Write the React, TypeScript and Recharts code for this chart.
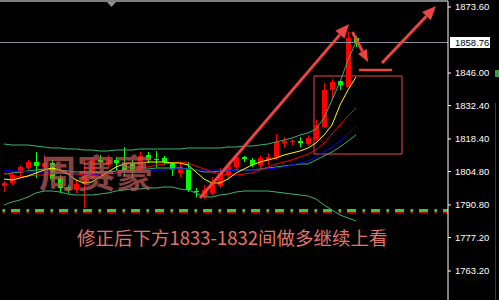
import React from 'react';
import { ComposedChart, Bar, Line, XAxis, YAxis, ReferenceLine, ReferenceArea } from 'recharts';

// ---- price data (one entry per bar) ----
const opens = [
  1798.74, 1800.0, 1804.18, 1806.27, 1808.78, 1806.69, 1808.36, 1802.09, 1798.33, 1797.07,
  1799.58, 1802.09, 1809.62, 1807.53, 1809.62, 1808.36, 1808.36, 1805.44, 1811.71, 1810.04,
  1810.45, 1808.36, 1804.18, 1806.27, 1796.65, 1794.14, 1795.82, 1798.74, 1803.34, 1806.69,
  1810.87, 1809.62, 1807.53, 1809.62, 1810.45, 1816.73, 1817.15, 1817.56, 1816.31, 1818.4,
  1823.42, 1838.89, 1842.66, 1840.15, 1860.64,
];
const highs = [
  1800.84, 1804.6, 1807.53, 1809.62, 1812.96, 1811.71, 1809.62, 1803.34, 1799.16, 1801.25,
  1809.62, 1810.87, 1811.71, 1811.71, 1810.87, 1815.05, 1809.62, 1812.96, 1812.96, 1813.38,
  1811.29, 1808.78, 1808.36, 1808.78, 1797.91, 1799.16, 1802.51, 1806.27, 1808.78, 1811.71,
  1811.29, 1810.45, 1811.29, 1812.55, 1820.49, 1819.24, 1818.4, 1819.24, 1820.07, 1826.35,
  1841.82, 1843.49, 1843.07, 1863.15, 1861.47,
];
const lows = [
  1796.24, 1799.16, 1802.51, 1805.44, 1802.09, 1804.6, 1800.42, 1795.82, 1795.82, 1795.82,
  1789.54, 1801.25, 1806.27, 1806.27, 1805.44, 1802.93, 1802.09, 1804.6, 1808.36, 1806.69,
  1807.53, 1802.93, 1802.51, 1796.24, 1794.14, 1793.31, 1794.98, 1797.91, 1802.09, 1805.44,
  1808.78, 1806.69, 1806.27, 1807.53, 1809.62, 1814.64, 1815.89, 1815.05, 1815.47, 1817.56,
  1823.0, 1834.71, 1838.89, 1840.15, 1856.87,
];
const closes = [
  1800.0, 1803.34, 1806.69, 1808.78, 1807.11, 1808.36, 1801.67, 1797.91, 1797.07, 1799.58,
  1802.93, 1809.62, 1808.78, 1809.62, 1808.36, 1805.44, 1804.6, 1811.29, 1809.62, 1809.62,
  1808.78, 1805.44, 1806.69, 1797.07, 1796.24, 1797.07, 1800.42, 1804.18, 1807.11, 1810.87,
  1810.04, 1807.53, 1810.45, 1810.87, 1817.15, 1817.56, 1817.56, 1816.73, 1818.82, 1824.25,
  1838.89, 1842.24, 1840.98, 1860.64, 1858.76,
];

// ---- indicator lines ----
const upperBand = [
  1816.31, 1815.89, 1815.89, 1815.89, 1815.47, 1815.05, 1814.64, 1814.64, 1814.22, 1814.22,
  1813.8, 1813.8, 1813.38, 1813.38, 1813.8, 1813.8, 1813.8, 1814.22, 1814.22, 1814.22,
  1814.22, 1814.22, 1814.22, 1814.64, 1814.64, 1814.64, 1814.64, 1814.64, 1815.05, 1815.05,
  1815.47, 1815.47, 1815.89, 1816.31, 1817.15, 1817.98, 1818.82, 1820.07, 1820.91, 1822.58,
  1827.18, 1834.71, 1842.24, 1851.44, 1858.97,
];
const midBand = [
  1803.76, 1804.18, 1804.6, 1805.02, 1805.44, 1805.85, 1805.85, 1805.44, 1805.02, 1804.6,
  1804.6, 1804.6, 1804.6, 1804.6, 1805.02, 1805.44, 1805.44, 1805.85, 1805.85, 1806.27,
  1806.27, 1806.27, 1806.27, 1805.85, 1805.44, 1804.6, 1804.6, 1805.02, 1805.02, 1805.44,
  1805.44, 1805.44, 1805.85, 1806.27, 1806.69, 1807.11, 1807.53, 1807.95, 1807.95, 1809.62,
  1811.29, 1812.96, 1815.05, 1817.56, 1820.07,
];
const lowerBand = [
  1790.8, 1792.05, 1792.89, 1794.14, 1795.82, 1796.65, 1796.65, 1796.24, 1795.4, 1794.98,
  1794.98, 1794.98, 1795.4, 1795.82, 1796.65, 1797.07, 1797.49, 1797.49, 1797.91, 1797.91,
  1798.33, 1798.33, 1797.49, 1797.07, 1795.82, 1794.14, 1794.14, 1794.98, 1795.4, 1796.24,
  1796.65, 1796.65, 1796.65, 1796.65, 1796.24, 1795.82, 1795.4, 1794.98, 1794.56, 1793.31,
  1790.8, 1788.71, 1786.62, 1785.36, 1784.11,
];
const maYellow = [
  1801.67, 1801.25, 1802.09, 1802.93, 1804.18, 1805.44, 1806.27, 1805.44, 1803.76, 1801.25,
  1800.0, 1800.42, 1802.51, 1804.6, 1806.69, 1807.95, 1808.36, 1808.36, 1808.78, 1808.78,
  1808.78, 1808.36, 1808.36, 1807.53, 1804.6, 1801.67, 1800.0, 1800.0, 1801.67, 1804.18,
  1805.85, 1807.53, 1808.78, 1809.62, 1810.45, 1811.71, 1812.55, 1813.38, 1814.64, 1816.73,
  1820.07, 1824.25, 1832.62, 1838.89, 1844.33,
];
const maRed = [
  1804.18, 1803.34, 1802.51, 1802.93, 1803.34, 1803.34, 1803.76, 1804.18, 1804.18, 1803.76,
  1803.34, 1802.93, 1803.34, 1803.76, 1804.18, 1805.02, 1805.44, 1806.27, 1806.69, 1807.53,
  1807.95, 1808.36, 1808.78, 1808.36, 1807.11, 1805.85, 1804.6, 1803.76, 1803.34, 1803.34,
  1803.76, 1804.18, 1805.44, 1806.69, 1807.95, 1808.78, 1809.62, 1810.87, 1812.13, 1813.8,
  1816.73, 1820.49, 1824.25, 1828.02, 1831.36,
];
const maBlue = [
  1805.44, 1805.02, 1805.02, 1804.6, 1804.6, 1804.6, 1804.18, 1804.18, 1803.76, 1803.76,
  1803.76, 1803.76, 1803.76, 1804.18, 1804.18, 1804.18, 1804.6, 1804.6, 1805.02, 1805.44,
  1805.44, 1805.85, 1805.85, 1805.85, 1805.44, 1805.44, 1805.44, 1805.44, 1805.02, 1805.44,
  1805.44, 1805.44, 1805.44, 1805.85, 1806.27, 1806.69, 1807.53, 1808.36, 1809.2, 1810.87,
  1812.96, 1815.05, 1817.56, 1820.49, 1823.84,
];

// ---- axis settings ----
const priceTicks = [1873.6, 1846.0, 1832.4, 1818.4, 1804.8, 1790.8, 1777.2, 1763.2];
const priceDomain: [number, number] = [1751.07, 1876.11];
const lastPrice = 1858.76;
const slotCount = 56;

// support levels (dash-dot)
const supportGreen = 1788.5;
const supportRed = 1787.54;

// hand-drawn annotations in (slot, price) coordinates
const trendArrows = [
  { from: { x: 25.0, y: 1793.73 }, to: { x: 43.625, y: 1866.49 }, len: 14, half: 6 },
  { from: { x: 44.06, y: 1863.15 }, to: { x: 46.0, y: 1850.6 }, len: 12, half: 5 },
  { from: { x: 47.75, y: 1850.18 }, to: { x: 54.5, y: 1874.02 }, len: 14, half: 6 },
];
const targetMark = { from: { x: 44.875, y: 1847.26 }, to: { x: 49.0, y: 1847.26 } };
const zoneBox = { x1: 39.25, x2: 50.25, y1: 1812.13, y2: 1844.75 };

const watermark = '周赛豪';
const caption = '修正后下方1833-1832间做多继续上看';

const rows = Array.from({ length: slotCount }, (_, i) =>
  i < opens.length
    ? {
        t: String(i),
        slot: i + 0.5,
        open: opens[i],
        high: highs[i],
        low: lows[i],
        close: closes[i],
        upper: upperBand[i],
        mid: midBand[i],
        lower: lowerBand[i],
        yellow: maYellow[i],
        red: maRed[i],
        blue: maBlue[i],
      }
    : { t: String(i), slot: i + 0.5 }
);

const ARROW_RED = '#ec4343';

const Candle = (props: any) => {
  const { x, y, width, height, payload } = props;
  if (!payload || payload.high === undefined || y == null || height == null) return null;
  const top = Math.min(y, y + height);
  const h = Math.abs(height);
  const span = payload.high - payload.low || 1;
  const toY = (v: number) => top + ((payload.high - v) / span) * h;
  const up = payload.close > payload.open;
  const color = up ? '#ff0000' : '#00ff00';
  const cx = Math.round(x + width / 2);
  const bTop = Math.round(toY(Math.max(payload.open, payload.close)));
  const bBot = Math.round(toY(Math.min(payload.open, payload.close)));
  return (
    <g>
      <line x1={cx + 0.5} x2={cx + 0.5} y1={Math.round(top)} y2={Math.round(top + h)} stroke={color} strokeWidth={1} />
      <rect x={cx - 2} y={bTop} width={5} height={Math.max(1, bBot - bTop)} fill={color} />
    </g>
  );
};

const makeArrow = (len: number, half: number) => (p: any) => {
  const { x1, y1, x2, y2 } = p;
  const ang = Math.atan2(y2 - y1, x2 - x1);
  const bx = x2 - len * Math.cos(ang);
  const by = y2 - len * Math.sin(ang);
  const nx = -Math.sin(ang);
  const ny = Math.cos(ang);
  return (
    <g>
      <line x1={x1} y1={y1} x2={bx} y2={by} stroke={ARROW_RED} strokeWidth={3} />
      <polygon
        points={`${x2},${y2} ${bx + nx * half},${by + ny * half} ${bx - nx * half},${by - ny * half}`}
        fill={ARROW_RED}
      />
    </g>
  );
};

const PriceTag = (props: any) => {
  const vb = props.viewBox || {};
  const right = (vb.x || 0) + (vb.width || 0);
  const cy = vb.y || 0;
  return (
    <g>
      <rect x={right + 2} y={cy - 5.5} width={40} height={11} fill="#ffffff" />
      <text x={right + 7} y={cy} dy="0.355em" fontSize={9.5} fontFamily="Liberation Sans" fill="#000000">
        {lastPrice.toFixed(2)}
      </text>
    </g>
  );
};

export default function App() {
  return (
    <div style={{ position: 'relative', width: 499, height: 300, background: '#000', overflow: 'hidden' }}>
      <style>{'body{margin:0;background:#000;}'}</style>
      <ComposedChart
        width={499}
        height={300}
        data={rows}
        margin={{ top: 1, right: 0, bottom: 0, left: 0 }}
        barCategoryGap={0}
        barGap={0}
      >
        <XAxis xAxisId="c" dataKey="t" type="category" hide />
        <XAxis xAxisId="n" dataKey="slot" type="number" domain={[0, slotCount]} allowDataOverflow hide />
        <YAxis
          orientation="right"
          width={51}
          domain={priceDomain}
          allowDataOverflow
          ticks={priceTicks}
          interval={0}
          tickFormatter={(v: number) => v.toFixed(2)}
          axisLine={{ stroke: '#ffffff' }}
          tickLine={{ stroke: '#ffffff' }}
          tickSize={3}
          tickMargin={4}
          tick={{ fill: '#ffffff', fontSize: 9.5, fontFamily: 'Liberation Sans' }}
        />

        {/* frame and last price */}
        <ReferenceLine xAxisId="c" y={priceDomain[1]} stroke="#ffffff" strokeWidth={1} />
        <ReferenceLine xAxisId="c" y={lastPrice} stroke="#8c919b" strokeWidth={1} label={PriceTag} />

        {/* support levels */}
        <ReferenceLine
          xAxisId="c"
          y={supportGreen}
          stroke="#32cd32"
          strokeWidth={3}
          strokeDasharray="9 6 2.5 6.5"
          strokeDashoffset={4}
        />
        <ReferenceLine
          xAxisId="c"
          y={supportRed}
          stroke="#ff0000"
          strokeWidth={1.3}
          strokeDasharray="9 6 2.5 6.5"
          strokeDashoffset={4}
        />

        <Bar xAxisId="c" dataKey={(d: any) => (d.high === undefined ? undefined : [d.low, d.high])} shape={Candle} isAnimationActive={false} />

        <Line xAxisId="c" dataKey="upper" stroke="#3cb371" strokeWidth={1} dot={false} activeDot={false} isAnimationActive={false} />
        <Line xAxisId="c" dataKey="lower" stroke="#3cb371" strokeWidth={1} dot={false} activeDot={false} isAnimationActive={false} />
        <Line xAxisId="c" dataKey="mid" stroke="#3cb371" strokeWidth={1} dot={false} activeDot={false} isAnimationActive={false} />
        <Line xAxisId="c" dataKey="blue" stroke="#0000ff" strokeWidth={1} dot={false} activeDot={false} isAnimationActive={false} />
        <Line xAxisId="c" dataKey="red" stroke="#ff0000" strokeWidth={1} dot={false} activeDot={false} isAnimationActive={false} />
        <Line xAxisId="c" dataKey="yellow" stroke="#ffff00" strokeWidth={1} dot={false} activeDot={false} isAnimationActive={false} />

        {/* annotations */}
        <ReferenceArea
          xAxisId="n"
          x1={zoneBox.x1}
          x2={zoneBox.x2}
          y1={zoneBox.y1}
          y2={zoneBox.y2}
          fill="none"
          fillOpacity={0}
          stroke="#f04646"
          strokeWidth={1}
        />
        <ReferenceLine xAxisId="n" segment={[targetMark.from, targetMark.to]} stroke={ARROW_RED} strokeWidth={2.5} />
        {trendArrows.map((a, k) => (
          <ReferenceLine
            key={k}
            xAxisId="n"
            segment={[a.from, a.to]}
            stroke={ARROW_RED}
            shape={makeArrow(a.len, a.half)}
          />
        ))}
      </ComposedChart>

      <svg width={499} height={300} style={{ position: 'absolute', left: 0, top: 0, pointerEvents: 'none' }}>
        <polygon points="107,2 116,2 111.5,7" fill="#8a909a" />
        <text x={39} y={187} fontSize={38} fontWeight={700} fontFamily="Noto Sans CJK SC" fill="#b45a55" fillOpacity={0.75}>
          {watermark}
        </text>
        <text x={77} y={245} fontSize={18.5} fontFamily="Noto Sans CJK SC" fill="#e0746c">
          {caption}
        </text>
        <rect x={495} y={70} width={4} height={7} fill="#3c9a46" />
        <line x1={495.5} y1={103} x2={495.5} y2={300} stroke="#3a3a3a" />
      </svg>
    </div>
  );
}
